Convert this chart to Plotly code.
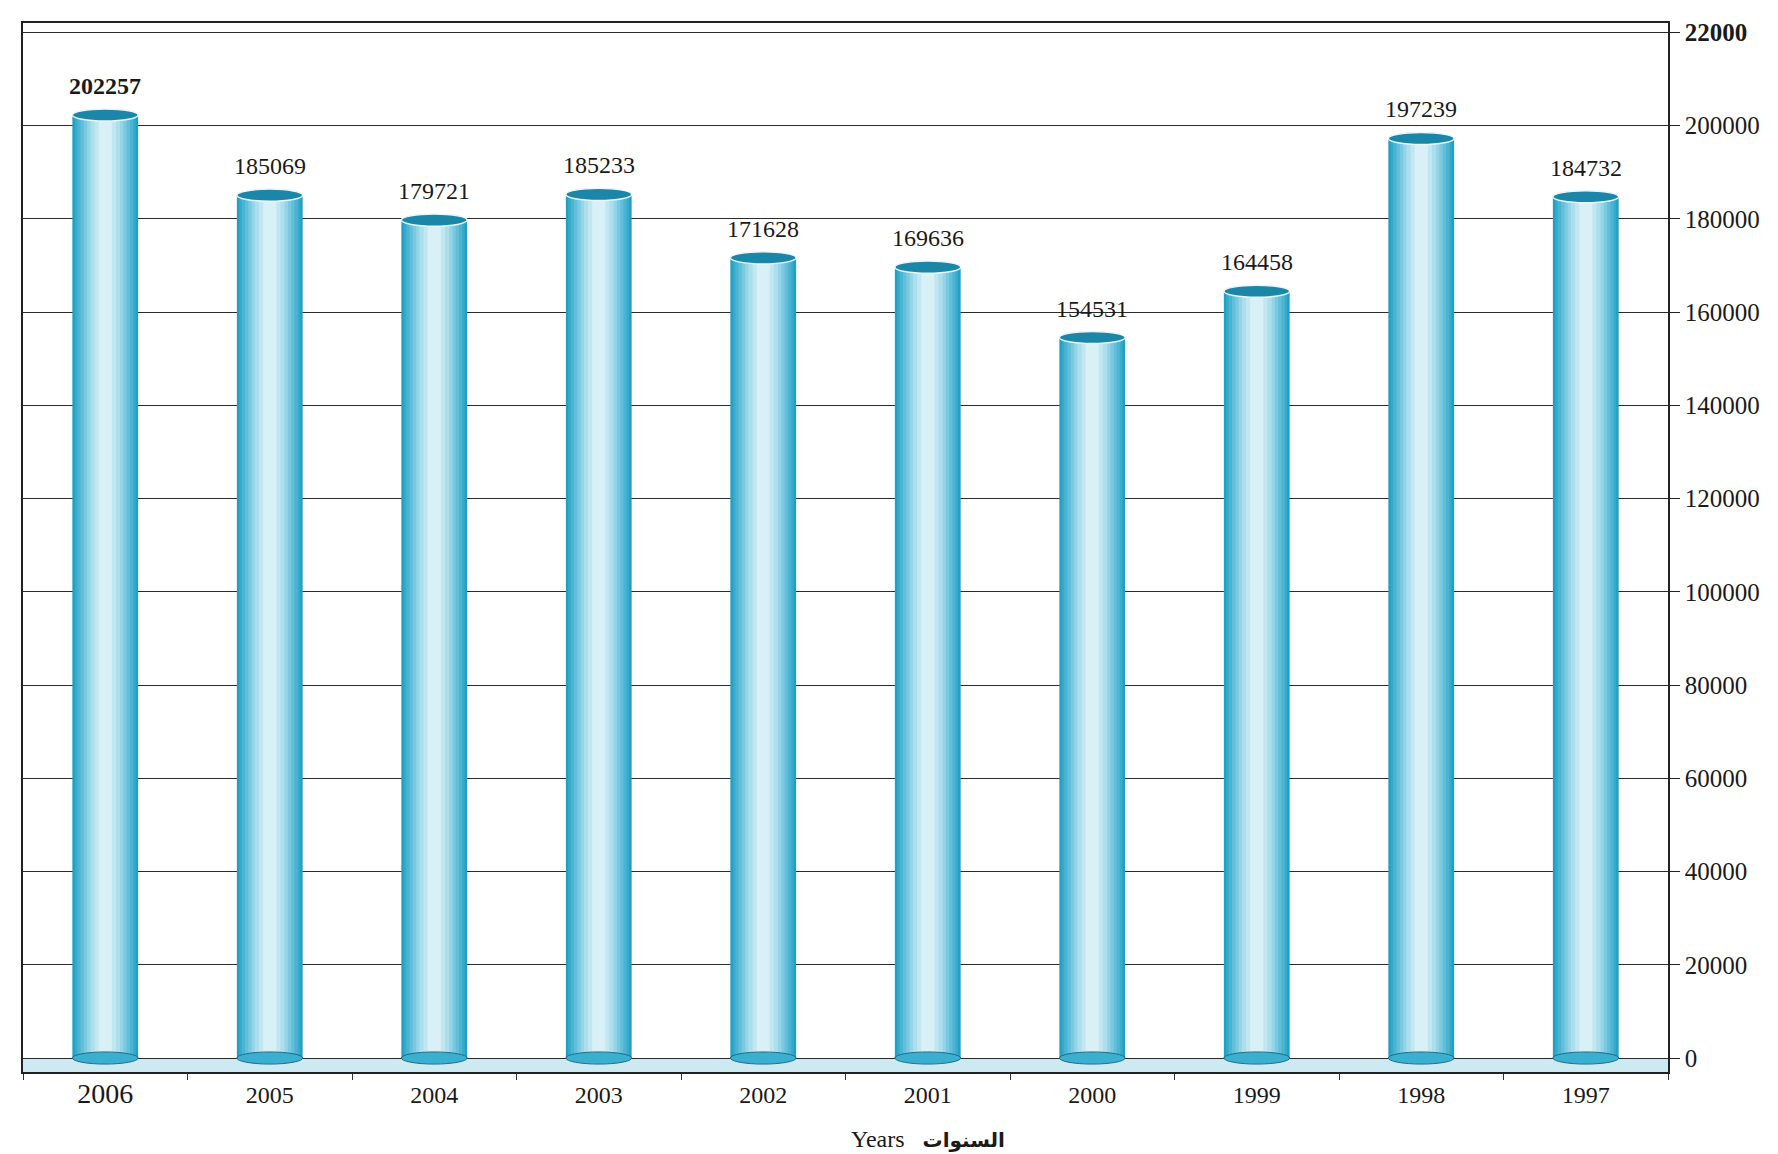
import plotly.graph_objects as go

years = ["2006", "2005", "2004", "2003", "2002", "2001", "2000", "1999", "1998", "1997"]
values = [202257, 185069, 179721, 185233, 171628, 169636, 154531, 164458, 197239, 184732]
y_ticks = [0, 20000, 40000, 60000, 80000, 100000, 120000, 140000, 160000, 180000, 200000, 220000]
y_ticktext = ["0", "20000", "40000", "60000", "80000", "100000", "120000", "140000",
              "160000", "180000", "200000", "<b>22000</b>"]

labels = [("<b>%d</b>" % v) if i == 0 else str(v) for i, v in enumerate(values)]
xt = [("<span style='font-size:28px'>%s</span>" % y) if i == 0 else y for i, y in enumerate(years)]

serif = "Liberation Serif, Times New Roman, serif"
fig = go.Figure()

# cylinder shading via overlaid bars of decreasing width
layers = [(0.40, "#22a0c3"), (0.37, "#36aacb"), (0.34, "#4bb4d3"), (0.30, "#62bfda"),
          (0.26, "#7bc9e0"), (0.22, "#94d4e7"), (0.18, "#acdeec"), (0.13, "#c3e7f1"),
          (0.08, "#d8f0f6")]
for k, (w, c) in enumerate(layers):
    fig.add_trace(go.Bar(
        x=years, y=values, width=w, marker=dict(color=c, line=dict(width=0)),
        hoverinfo="skip" if k else "x+y", showlegend=False,
    ))

shapes = []
# floor
shapes.append(dict(type="rect", xref="paper", yref="y", x0=0, x1=1, y0=-3000, y1=0,
                   fillcolor="#cdeaf3", line=dict(width=0), layer="below"))
# cylinder tops and bottoms
for i, v in enumerate(values):
    shapes.append(dict(type="circle", xref="x", yref="y", x0=i - 0.2, x1=i + 0.2,
                       y0=v - 1300, y1=v + 1300, fillcolor="#1b86a8",
                       line=dict(color="#e6f6fb", width=1.5), layer="above"))
    shapes.append(dict(type="circle", xref="x", yref="y", x0=i - 0.2, x1=i + 0.2,
                       y0=-1300, y1=1300, fillcolor="#3aafcf",
                       line=dict(color="#1b6f88", width=1), layer="above"))

annotations = [dict(x=i, y=values[i], xref="x", yref="y", text=labels[i],
                    showarrow=False, yanchor="bottom", yshift=14,
                    font=dict(family=serif, size=24, color="#1a1a1a"))
               for i in range(len(values))]
annotations.append(dict(xref="paper", yref="paper", x=0.55, y=-0.064, yanchor="middle",
                        text="<span style='font-size:24px'>Years</span>   "
                             "<b><span style='font-family:DejaVu Sans;font-size:20px'>السنوات</span></b>",
                        showarrow=False, font=dict(family=serif, size=24, color="#1a1a1a")))

fig.update_layout(
    width=1778, height=1154,
    barmode="overlay",
    paper_bgcolor="white", plot_bgcolor="white",
    margin=dict(l=15, r=118, t=15, b=90),
    font=dict(family=serif, size=24, color="#1a1a1a"),
    shapes=shapes,
    annotations=annotations,
    xaxis=dict(type="category", categoryorder="array", categoryarray=years,
               tickvals=years, ticktext=xt, range=[-0.5, 9.5],
               ticks="outside", tickson="boundaries", ticklen=6, tickcolor="#333",
               showline=True, linecolor="#222", linewidth=1.5, mirror=True,
               showgrid=False, tickfont=dict(family=serif, size=24, color="#1a1a1a")),
    yaxis=dict(side="right", range=[-3000, 222000], tickvals=y_ticks, ticktext=y_ticktext,
               showgrid=True, gridcolor="#2b2b2b", gridwidth=1.3, zeroline=False,
               ticks="outside", ticklen=10, tickcolor="#222",
               showline=True, linecolor="#222", linewidth=1.5, mirror=True,
               tickfont=dict(family=serif, size=25, color="#1a1a1a")),
)

fig.write_html("out.html")
